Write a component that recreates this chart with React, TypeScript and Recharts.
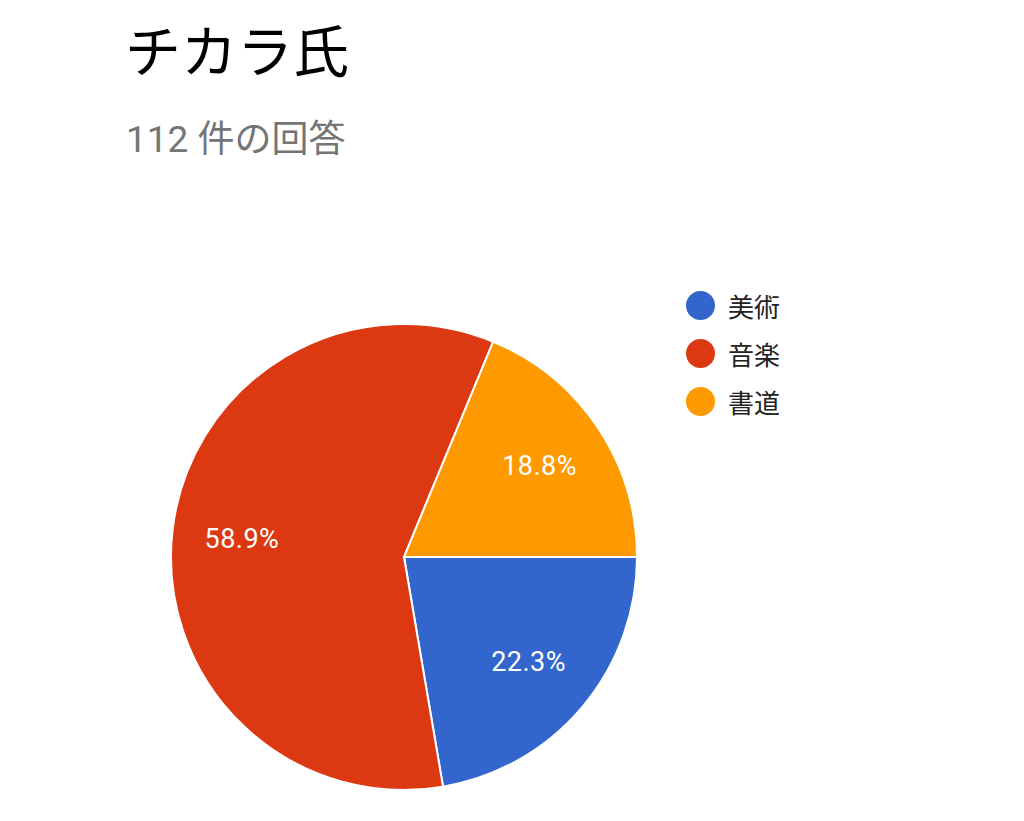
import React from "react";
import { PieChart, Pie, Cell, Legend } from "recharts";

const title = "チカラ氏";
const subtitle = "112 件の回答";
const categories = ["美術", "音楽", "書道"];
const counts = [25, 66, 21];
const colors = ["#3366cc", "#dc3912", "#ff9900"];

const total = counts.reduce((a, b) => a + b, 0);
const data = categories.map((name, i) => ({ name, value: counts[i] }));

const FONT = 'Roboto, "Noto Sans CJK JP", sans-serif';
const RAD = Math.PI / 180;

function renderLabel(props: any) {
  const { cx, cy, midAngle, outerRadius, value } = props;
  const r = outerRadius * 0.7;
  const x = cx + r * Math.cos(-midAngle * RAD);
  const y = cy + r * Math.sin(-midAngle * RAD);
  return (
    <text
      x={x}
      y={y}
      fill="#ffffff"
      textAnchor="middle"
      dominantBaseline="central"
      style={{ fontFamily: FONT, fontSize: 27, letterSpacing: 0.5 }}
    >
      {((value / total) * 100).toFixed(1)}%
    </text>
  );
}

function LegendList() {
  return (
    <div style={{ fontFamily: FONT }}>
      {categories.map((c, i) => (
        <div
          key={c}
          style={{ display: "flex", alignItems: "center", height: 48 }}
        >
          <span
            style={{
              width: 29,
              height: 29,
              borderRadius: "50%",
              background: colors[i],
              display: "inline-block",
              marginRight: 13,
            }}
          />
          <span style={{ fontSize: 26, color: "#222222" }}>{c}</span>
        </div>
      ))}
    </div>
  );
}

export default function App() {
  return (
    <div
      style={{
        position: "absolute",
        left: 0,
        top: 0,
        width: 1024,
        height: 821,
        background: "#ffffff",
        fontFamily: FONT,
      }}
    >
      <div
        style={{
          position: "absolute",
          left: 125,
          top: 20,
          fontSize: 56,
          color: "#000000",
          lineHeight: 1.2,
        }}
      >
        {title}
      </div>
      <div
        style={{
          position: "absolute",
          left: 126,
          top: 118,
          fontSize: 37,
          color: "#757575",
          lineHeight: 1.2,
        }}
      >
        {subtitle}
      </div>
      <PieChart
        width={1024}
        height={821}
        margin={{ top: 0, right: 0, bottom: 0, left: 0 }}
        style={{ position: "absolute", left: 0, top: 0 }}
      >
        <Pie
          data={data}
          dataKey="value"
          nameKey="name"
          cx={404}
          cy={557}
          outerRadius={233}
          startAngle={0}
          endAngle={-360}
          stroke="#ffffff"
          strokeWidth={2}
          label={renderLabel}
          labelLine={false}
          isAnimationActive={false}
        >
          {data.map((d, i) => (
            <Cell key={d.name} fill={colors[i]} />
          ))}
        </Pie>
        <Legend
          layout="vertical"
          content={() => <LegendList />}
          wrapperStyle={{ position: "absolute", left: 686, top: 281, width: 200 }}
        />
      </PieChart>
    </div>
  );
}
